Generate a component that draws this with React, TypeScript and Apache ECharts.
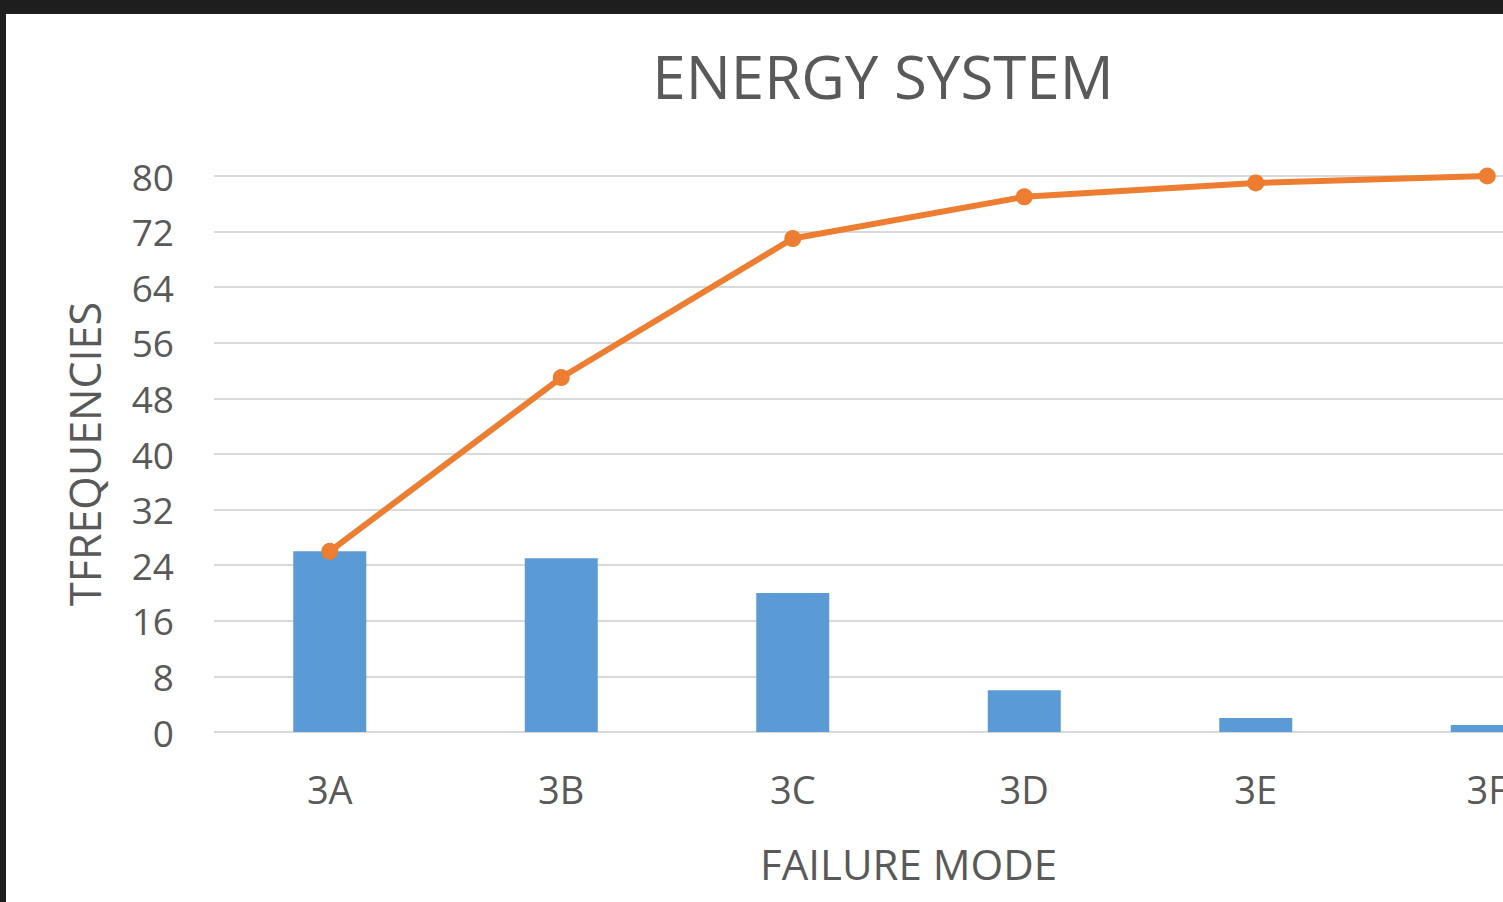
import React, { useEffect, useRef } from "react";
import * as echarts from "echarts";

const categories = ["3A", "3B", "3C", "3D", "3E", "3F"];
const frequencies = [26, 25, 20, 6, 2, 1];
const cumulative = [26, 51, 71, 77, 79, 80];
const yTicks = { min: 0, max: 80, interval: 8 };

const FONT = "'Open Sans', 'Noto Sans', sans-serif";
const TEXT = "#595959";

export default function App() {
  const ref = useRef<HTMLDivElement>(null);
  useEffect(() => {
    if (!ref.current) return;
    const chart = echarts.init(ref.current, null, { renderer: "svg" });
    chart.setOption({
      animation: false,
      backgroundColor: "#ffffff",
      textStyle: { fontFamily: FONT },
      graphic: [
        {
          type: "text",
          x: 877,
          y: 62,
          style: {
            text: "ENERGY SYSTEM",
            textAlign: "center",
            textVerticalAlign: "middle",
            fontSize: 60,
            fontFamily: FONT,
            fill: TEXT,
          },
        },
      ],
      grid: { left: 208, top: 162, width: 1389, height: 556 },
      xAxis: {
        type: "category",
        data: categories,
        axisLine: { show: false },
        axisTick: { show: false },
        axisLabel: { color: TEXT, fontSize: 38, margin: 38, fontFamily: FONT },
        name: "FAILURE MODE",
        nameLocation: "middle",
        nameGap: 110,
        nameTextStyle: { color: TEXT, fontSize: 42, fontFamily: FONT },
      },
      yAxis: {
        type: "value",
        min: yTicks.min,
        max: yTicks.max,
        interval: yTicks.interval,
        axisLine: { show: false },
        axisTick: { show: false },
        splitLine: { lineStyle: { color: "#d9d9d9", width: 2 } },
        axisLabel: { color: TEXT, fontSize: 37, margin: 40, fontFamily: FONT },
        name: "TFREQUENCIES",
        nameLocation: "middle",
        nameRotate: 90,
        nameGap: 108,
        nameTextStyle: { color: TEXT, fontSize: 43, fontFamily: FONT },
      },
      series: [
        {
          type: "bar",
          data: frequencies,
          barWidth: 73,
          itemStyle: { color: "#5b9bd5" },
        },
        {
          type: "line",
          data: cumulative,
          symbol: "circle",
          symbolSize: 17,
          lineStyle: { color: "#ed7d31", width: 6 },
          itemStyle: { color: "#ed7d31" },
          z: 3,
        },
      ],
    });
    return () => chart.dispose();
  }, []);
  return (
    <div
      style={{
        position: "fixed",
        left: 0,
        top: 0,
        width: "100vw",
        height: "100vh",
        overflow: "hidden",
        background: "#1e1e1e",
      }}
    >
      <div
        ref={ref}
        style={{ position: "absolute", left: 6, top: 14, width: 1800, height: 888 }}
      />
    </div>
  );
}
